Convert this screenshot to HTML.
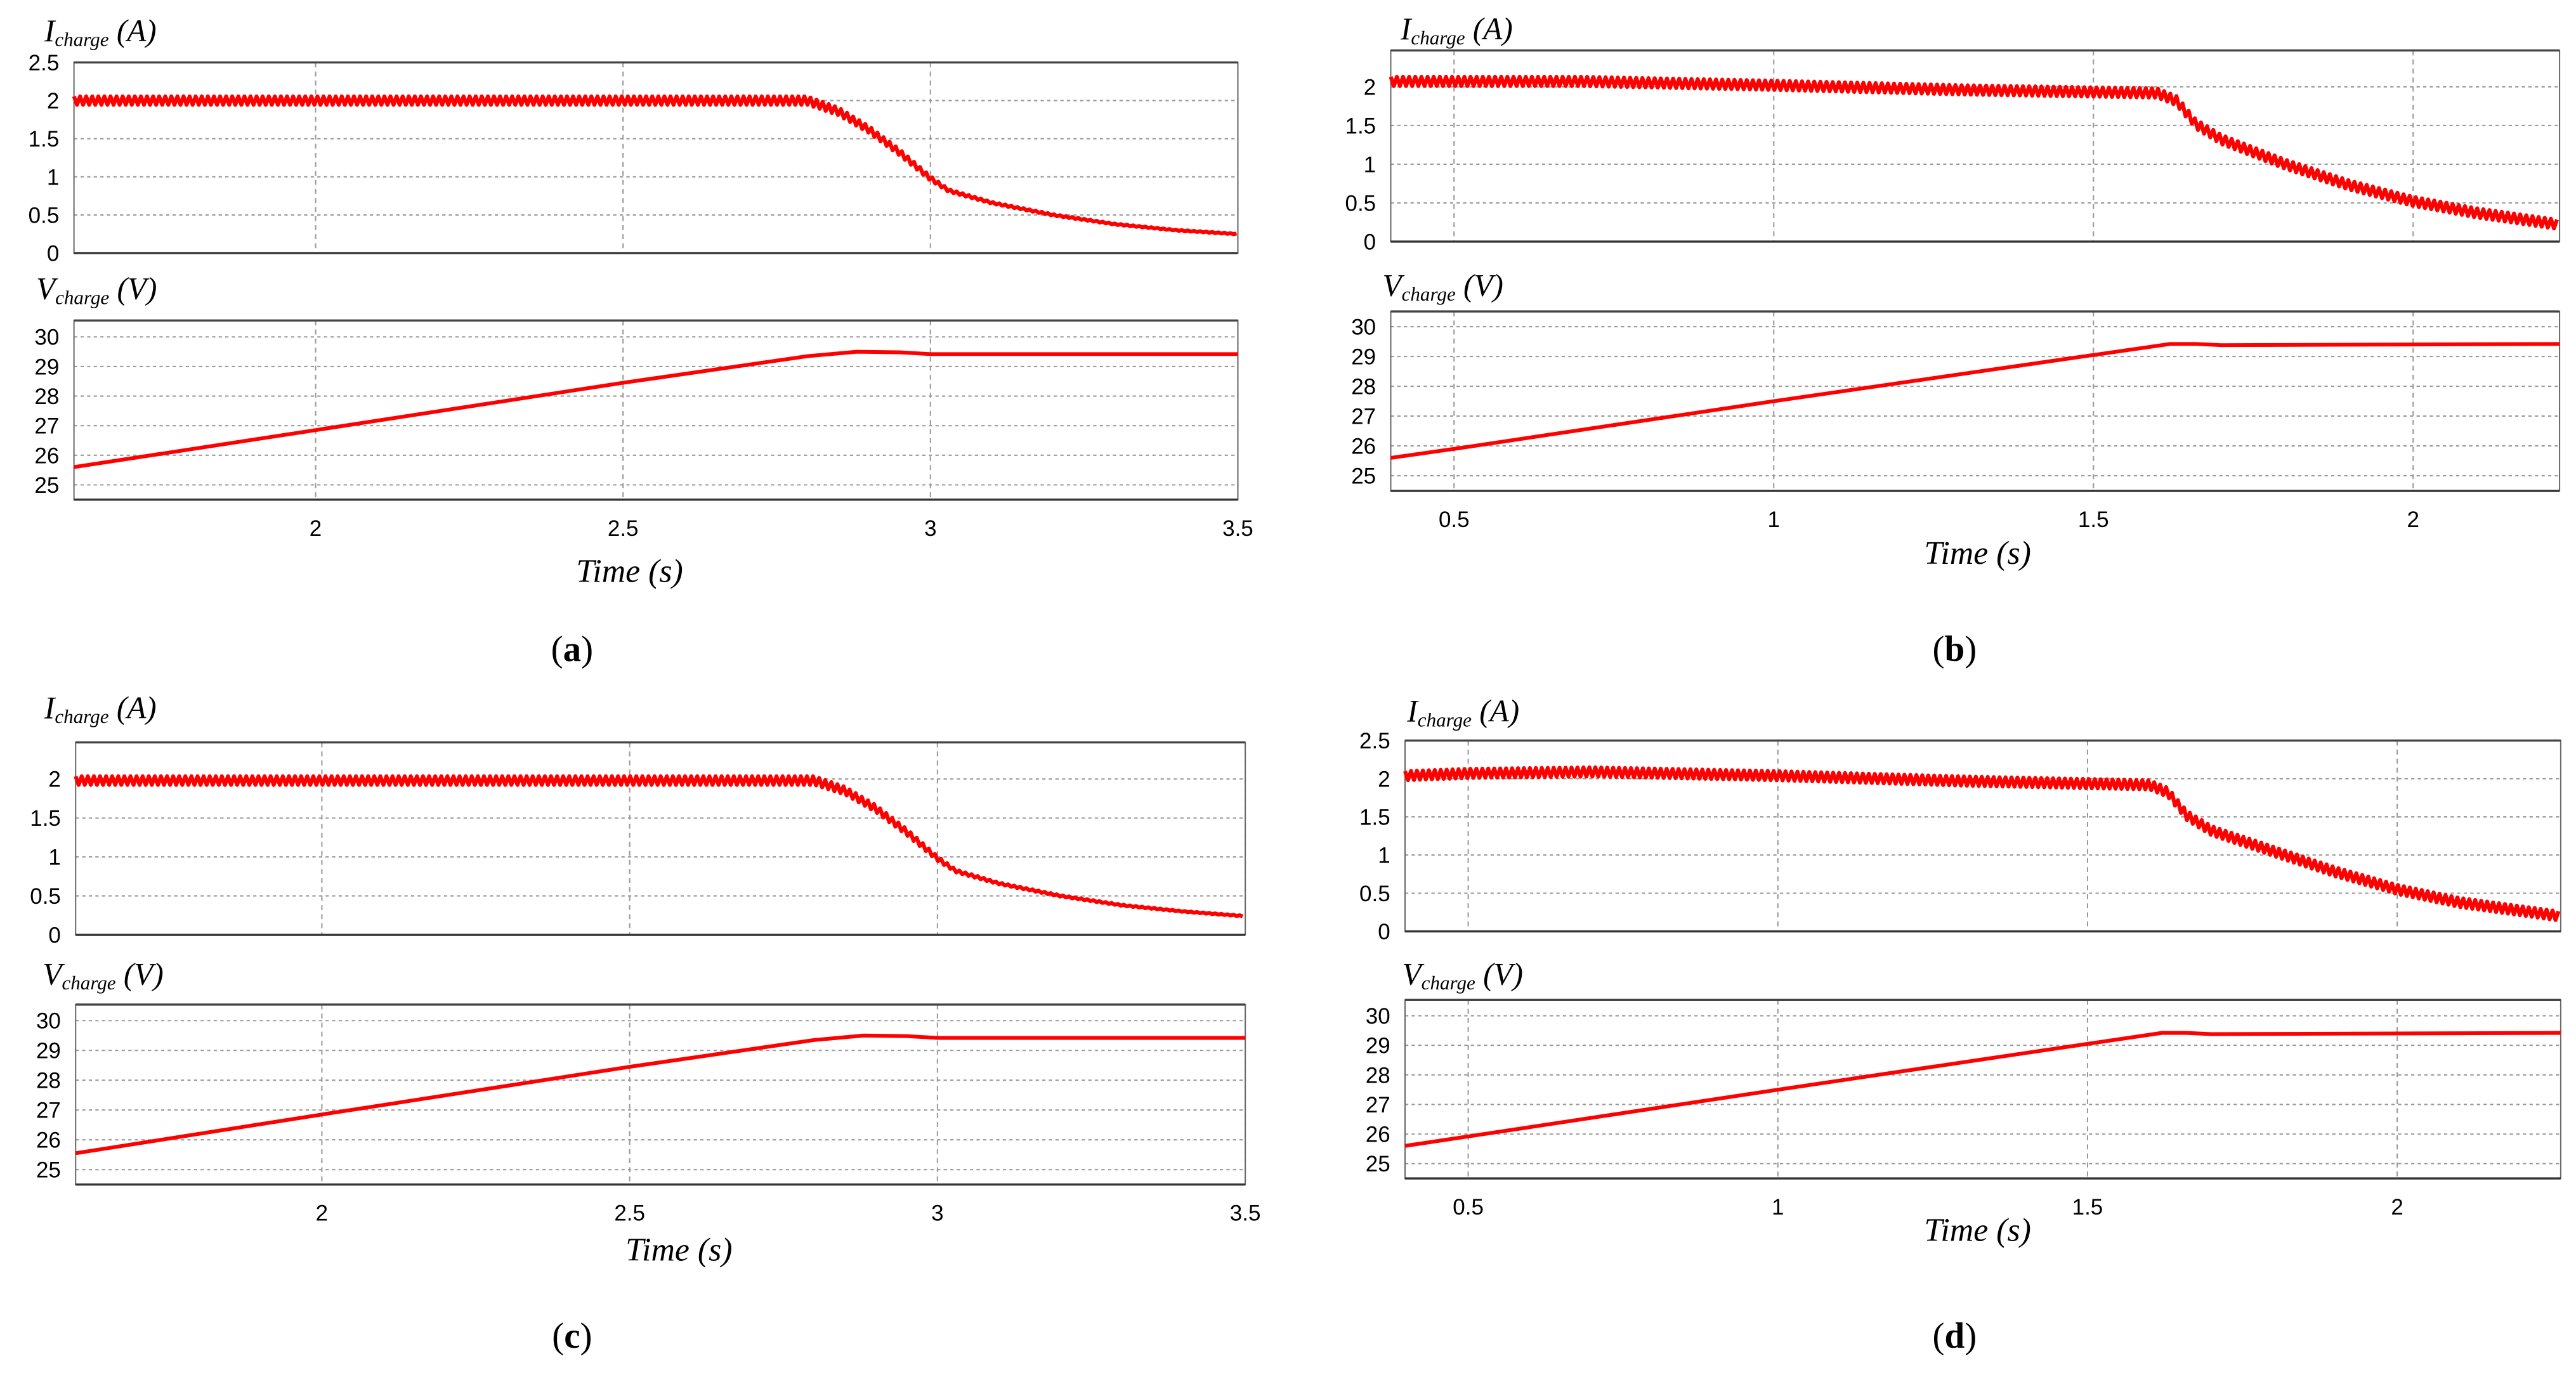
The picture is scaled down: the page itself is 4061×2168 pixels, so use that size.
<!DOCTYPE html>
<html><head><meta charset="utf-8">
<style>
html,body{margin:0;padding:0;background:#fff;}
svg{display:block;}
.tick{font-family:"Liberation Sans",sans-serif;font-size:13.5px;fill:#000;}
.lab{font-family:"Liberation Serif",serif;font-style:italic;fill:#000;}
</style></head>
<body>
<svg id="fig" xmlns="http://www.w3.org/2000/svg" width="4061" height="2168" viewBox="0 0 1567 836.6" preserveAspectRatio="none"></svg>
<script>
// ---- data: panel (a) ----
const aCurT = [1.607, 2.8, 2.85, 2.9, 2.95, 3.0, 3.03, 3.1, 3.2, 3.3, 3.4, 3.5];
const aCurV = [2.0, 2.0, 1.86, 1.62, 1.32, 0.98, 0.82, 0.66, 0.5, 0.38, 0.3, 0.25];
const aRip  = [0.055, 0.055, 0.05, 0.045, 0.04, 0.03, 0.018, 0.012, 0.01, 0.008, 0.006, 0.006];
const aVT = [1.607, 2.0, 2.5, 2.8, 2.88, 2.95, 3.0, 3.5];
const aVV = [25.6, 26.85, 28.45, 29.35, 29.5, 29.48, 29.42, 29.42];
// ---- data: panel (b) ----
const bCurT = [0.401, 0.7, 1.0, 1.3, 1.6, 1.63, 1.66, 1.7, 1.8, 1.9, 2.0, 2.1, 2.229];
const bCurV = [2.07, 2.07, 2.02, 1.96, 1.92, 1.82, 1.52, 1.32, 1.0, 0.73, 0.52, 0.37, 0.22];
const bRip  = [0.06, 0.06, 0.06, 0.06, 0.06, 0.06, 0.06, 0.06, 0.06, 0.06, 0.06, 0.06, 0.06];
const bVT = [0.401, 0.5, 1.0, 1.5, 1.62, 1.66, 1.7, 2.229];
const bVV = [25.6, 25.9, 27.5, 29.05, 29.42, 29.42, 29.38, 29.42];
// ---- data: panel (c) ----
const cCurT = [1.6, 2.8, 2.85, 2.9, 2.95, 3.0, 3.03, 3.1, 3.2, 3.3, 3.4, 3.5];
const cCurV = [1.98, 1.98, 1.85, 1.62, 1.32, 0.98, 0.82, 0.66, 0.5, 0.38, 0.3, 0.24];
const cRip  = [0.055, 0.055, 0.05, 0.045, 0.04, 0.03, 0.018, 0.012, 0.01, 0.008, 0.006, 0.006];
const cVT = [1.6, 2.0, 2.5, 2.8, 2.88, 2.95, 3.0, 3.5];
const cVV = [25.55, 26.85, 28.45, 29.35, 29.5, 29.48, 29.42, 29.42];
// ---- data: panel (d) ----
const dCurT = [0.398, 0.5, 0.7, 1.0, 1.3, 1.6, 1.63, 1.66, 1.7, 1.8, 1.9, 2.0, 2.1, 2.264];
const dCurV = [2.04, 2.07, 2.09, 2.04, 1.97, 1.92, 1.82, 1.52, 1.32, 1.05, 0.78, 0.55, 0.38, 0.2];
const dRip  = [0.06, 0.06, 0.06, 0.06, 0.06, 0.06, 0.06, 0.06, 0.06, 0.06, 0.06, 0.06, 0.06, 0.06];
const dVT = [0.398, 0.5, 1.0, 1.5, 1.62, 1.66, 1.7, 2.264];
const dVV = [25.6, 25.92, 27.5, 29.05, 29.42, 29.42, 29.38, 29.42];
// ---- tick labels ----
const curTicks = [0, 0.5, 1, 1.5, 2, 2.5];
const curTicksBC = [0, 0.5, 1, 1.5, 2];
const voltTicks = [25, 26, 27, 28, 29, 30];
const timeTicksAC = [2, 2.5, 3, 3.5];
const timeTicksBD = [0.5, 1, 1.5, 2];

const NS = "http://www.w3.org/2000/svg";
const svg = document.getElementById('fig');
function mk(tag, attrs, parent){ const e=document.createElementNS(NS,tag); for(const k in attrs) e.setAttribute(k,attrs[k]); (parent||svg).appendChild(e); return e; }
function interp(ts, vs, t){ if(t<=ts[0]) return vs[0]; for(let i=1;i<ts.length;i++){ if(t<=ts[i]){ const f=(t-ts[i-1])/(ts[i]-ts[i-1]); return vs[i-1]+f*(vs[i]-vs[i-1]); } } return vs[vs.length-1]; }

function plot(g, name, box, xr, yr, yTicks, xTicks, showXLabels){
  const sx = t => box.L + (t-xr[0])/(xr[1]-xr[0])*(box.R-box.L);
  const sy = v => box.B - (v-yr[0])/(yr[1]-yr[0])*(box.B-box.T);
  const grp = mk('g', {});
  
  
  g.appendChild(grp);
  for(const v of yTicks){
    const l = mk('line',{x1:box.L,x2:box.R,y1:sy(v),y2:sy(v),stroke:'#9a9a9a','stroke-width':0.8,'stroke-dasharray':'2 2'},grp);
     
    const tx = mk('text',{x:box.L-9,y:sy(v)+4.8,'text-anchor':'end',class:'tick'},grp);
    tx.textContent = String(v);
     
  }
  for(const t of xTicks){
    const l = mk('line',{x1:sx(t),x2:sx(t),y1:box.T,y2:box.B,stroke:'#9a9a9a','stroke-width':0.8,'stroke-dasharray':'3 2.5'},grp);
     
    if(showXLabels){
      const tx = mk('text',{x:sx(t),y:box.B+22,'text-anchor':'middle',class:'tick'},grp);
      tx.textContent = String(t);
       
    }
  }
  const fr = mk('rect',{x:box.L,y:box.T,width:box.R-box.L,height:box.B-box.T,fill:'none',stroke:'#6a6a6a','stroke-width':0.8},grp);
   
  const tl = mk('line',{x1:box.L,x2:box.R,y1:box.T,y2:box.T,stroke:'#444','stroke-width':1.3},grp);
   
  const bl = mk('line',{x1:box.L,x2:box.R,y1:box.B,y2:box.B,stroke:'#333','stroke-width':1.3},grp);
   
  return {sx, sy, grp};
}

function currentTrace(p, ts, vs, rip, period, name){
  let d=''; let k=0;
  for(let t=ts[0]; t<=ts[ts.length-1]+1e-9; t+=period/2, k++){
    const v = interp(ts,vs,t) + (k%2?-1:1)*interp(ts,rip,t);
    d += (k?'L':'M') + p.sx(t).toFixed(2)+','+p.sy(v).toFixed(2);
  }
  const path = mk('path',{d:d,fill:'none',stroke:'#ff0000','stroke-width':2.4,'stroke-linejoin':'round'},p.grp);
  
  
}
function voltTrace(p, ts, vs, name){
  let d='';
  ts.forEach((t,i)=>{ d += (i?'L':'M') + p.sx(t).toFixed(2)+','+p.sy(vs[i]).toFixed(2); });
  const path = mk('path',{d:d,fill:'none',stroke:'#ff0000','stroke-width':2.3,'stroke-linejoin':'round'},p.grp);
  
  
}
function ylabel(g, x, y, main, unit, name){
  const t = mk('text',{x:x,y:y,class:'lab','font-size':19},g);
   
  const s1 = mk('tspan',{},t); s1.textContent = main;
  const s2 = mk('tspan',{'font-size':12,dy:3}, t); s2.textContent = 'charge';
  const s3 = mk('tspan',{dy:-3}, t); s3.textContent = ' (' + unit + ')';
}
function text(g, x, y, str, size, name, italic){
  const t = mk('text',{x:x,y:y,'text-anchor':'middle','font-family':'"Liberation Serif", serif','font-size':size,'font-style':italic?'italic':'normal'},g);
  t.textContent = str;
   
}

function panel(id, cfg){
  const g = mk('g',{});
  
  
  const p1 = plot(g, 'current-plot', cfg.top, cfg.xr, cfg.cyr, cfg.cTicks, cfg.xTicks, false);
  currentTrace(p1, cfg.cT, cfg.cV, cfg.rip, cfg.period, 'current-series');
  const p2 = plot(g, 'voltage-plot', cfg.bot, cfg.xr, cfg.vyr, voltTicks, cfg.xTicks, true);
  voltTrace(p2, cfg.vT, cfg.vV, 'voltage-series');
  ylabel(g, cfg.iLab[0], cfg.iLab[1], 'I', 'A', 'current-axis-title');
  ylabel(g, cfg.vLab[0], cfg.vLab[1], 'V', 'V', 'voltage-axis-title');
  text(g, cfg.timeLab[0], cfg.timeLab[1], 'Time (s)', 20, 'x-axis-title', true);
  const pl = mk('text',{x:cfg.pLab[0],y:cfg.pLab[1],'text-anchor':'middle','font-family':'"Liberation Serif", serif','font-size':22},g);
   
  const a=mk('tspan',{},pl); a.textContent='(';
  const b=mk('tspan',{'font-weight':'bold'},pl); b.textContent=id;
  const c=mk('tspan',{},pl); c.textContent=')';
}

panel('a',{top:{L:45,R:753,T:38,B:154},bot:{L:45,R:753,T:195,B:304},xr:[1.607,3.5],cyr:[0,2.5],vyr:[24.5,30.556],
  cTicks:curTicks,xTicks:timeTicksAC,cT:aCurT,cV:aCurV,rip:aRip,period:0.0099,vT:aVT,vV:aVV,
  iLab:[27,25],vLab:[22,182],timeLab:[383,354],pLab:[348,402]});
panel('b',{top:{L:846,R:1557,T:30.7,B:147},bot:{L:846,R:1557,T:189.5,B:298.7},xr:[0.401,2.229],cyr:[0,2.47],vyr:[24.49,30.51],
  cTicks:curTicksBC,xTicks:timeTicksBD,cT:bCurT,cV:bCurV,rip:bRip,period:0.0096,vT:bVT,vV:bVV,
  iLab:[852,24],vLab:[841,180],timeLab:[1203,343],pLab:[1189,402]});
panel('c',{top:{L:46,R:757.5,T:451.7,B:568.8},bot:{L:46,R:757.5,T:611.2,B:720.7},xr:[1.6,3.5],cyr:[0,2.47],vyr:[24.5,30.54],
  cTicks:curTicksBC,xTicks:timeTicksAC,cT:cCurT,cV:cCurV,rip:cRip,period:0.0099,vT:cVT,vV:cVV,
  iLab:[27,437],vLab:[26,599],timeLab:[413,767],pLab:[348,820]});
panel('d',{top:{L:854.7,R:1557.7,T:450.6,B:566.7},bot:{L:854.7,R:1557.7,T:608.3,B:717},xr:[0.398,2.264],cyr:[0,2.5],vyr:[24.5,30.54],
  cTicks:curTicks,xTicks:timeTicksBD,cT:dCurT,cV:dCurV,rip:dRip,period:0.0096,vT:dVT,vV:dVV,
  iLab:[856,439],vLab:[853,599],timeLab:[1203,755],pLab:[1189,820]});
</script>
</body></html>
